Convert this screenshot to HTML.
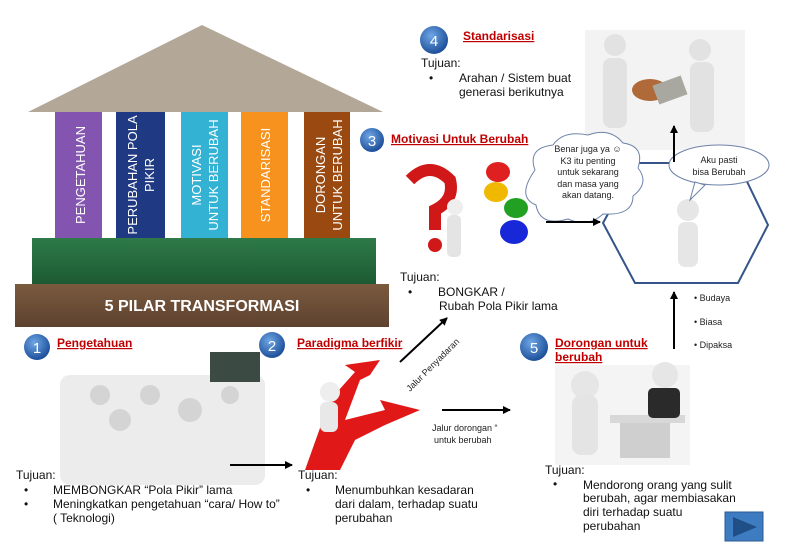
<!DOCTYPE html>
<html><head><meta charset="utf-8"><style>
html,body{margin:0;padding:0;background:#fff;}
svg{display:block;font-family:"Liberation Sans",Arial,sans-serif;}
.t{font-size:12px;fill:#111;}
.h{font-size:12px;font-weight:bold;fill:#c00000;text-decoration:underline;}
.s{font-size:9px;fill:#222;}
.p{font-size:13px;fill:#fff;}
</style></head><body>
<svg width="785" height="550" viewBox="0 0 785 550" xmlns="http://www.w3.org/2000/svg">
<defs>
<radialGradient id="bc" cx="40%" cy="35%" r="65%"><stop offset="0" stop-color="#6fa7e6"/><stop offset="1" stop-color="#1d4f9a"/></radialGradient>
<linearGradient id="gr" x1="0" y1="0" x2="0" y2="1"><stop offset="0" stop-color="#2e7a48"/><stop offset="1" stop-color="#1d5a33"/></linearGradient>
<linearGradient id="br" x1="0" y1="0" x2="0" y2="1"><stop offset="0" stop-color="#7a5a3e"/><stop offset="1" stop-color="#5e4230"/></linearGradient>
<marker id="ar" markerWidth="8" markerHeight="8" refX="7" refY="4" orient="auto" markerUnits="userSpaceOnUse"><path d="M0,0 L8,4 L0,8 z" fill="#000"/></marker>
</defs>

<!-- temple -->
<polygon points="202,25 383,112 28,112" fill="#b3a898"/>
<rect x="55" y="112" width="47" height="126" fill="#8355b0"/>
<rect x="116" y="112" width="49" height="126" fill="#1f3a82"/>
<rect x="181" y="112" width="47" height="126" fill="#33b2d4"/>
<rect x="241" y="112" width="47" height="126" fill="#f7921e"/>
<rect x="304" y="112" width="46" height="126" fill="#9a4a10"/>
<g class="p">
<text transform="translate(85,175) rotate(-90)" text-anchor="middle">PENGETAHUAN</text>
<text transform="translate(137,175) rotate(-90)" text-anchor="middle">PERUBAHAN POLA</text>
<text transform="translate(154,175) rotate(-90)" text-anchor="middle">PIKIR</text>
<text transform="translate(201,175) rotate(-90)" text-anchor="middle">MOTIVASI</text>
<text transform="translate(218,175) rotate(-90)" text-anchor="middle">UNTUK BERUBAH</text>
<text transform="translate(270,175) rotate(-90)" text-anchor="middle">STANDARISASI</text>
<text transform="translate(325,175) rotate(-90)" text-anchor="middle">DORONGAN</text>
<text transform="translate(342,175) rotate(-90)" text-anchor="middle">UNTUK BERUBAH</text>
</g>
<rect x="32" y="238" width="344" height="46" fill="url(#gr)"/>
<rect x="15" y="284" width="374" height="43" fill="url(#br)"/>
<text x="202" y="311" text-anchor="middle" style="font-size:16px;font-weight:bold;fill:#fff">5 PILAR TRANSFORMASI</text>

<!-- numbered circles -->
<g style="font-size:15px;fill:#fff" text-anchor="middle">
<circle cx="37" cy="347" r="13" fill="url(#bc)"/><text x="37" y="353">1</text>
<circle cx="272" cy="345" r="13" fill="url(#bc)"/><text x="272" y="351">2</text>
<circle cx="372" cy="140" r="12" fill="url(#bc)"/><text x="372" y="146">3</text>
<circle cx="434" cy="40" r="14" fill="url(#bc)"/><text x="434" y="46">4</text>
<circle cx="534" cy="347" r="14" fill="url(#bc)"/><text x="534" y="353">5</text>
</g>
<text x="57" y="347" class="h">Pengetahuan</text>
<text x="297" y="347" class="h">Paradigma berfikir</text>
<text x="391" y="143" class="h">Motivasi Untuk Berubah</text>
<text x="463" y="40" class="h">Standarisasi</text>
<text x="555" y="347" class="h">Dorongan untuk</text>
<text x="555" y="361" class="h">berubah</text>

<!-- pictures (approximate) -->
<g fill="#e4e4e4">
<rect x="60" y="375" width="205" height="110" rx="10" fill="#ececec"/>
<rect x="210" y="352" width="50" height="30" fill="#3c4a44"/>
<circle cx="100" cy="395" r="10" fill="#d4d4d4"/><circle cx="150" cy="395" r="10" fill="#d4d4d4"/><circle cx="190" cy="410" r="12" fill="#d4d4d4"/><circle cx="120" cy="420" r="11" fill="#d4d4d4"/><circle cx="230" cy="395" r="9" fill="#d4d4d4"/>
</g>
<polygon points="305,470 330,400 355,372 345,365 380,360 370,375 360,380 345,420 385,410 380,400 420,410 385,425 355,440 340,470" fill="#e01818"/>
<circle cx="330" cy="392" r="10" fill="#eee"/><rect x="320" y="402" width="18" height="30" rx="6" fill="#e8e8e8"/>
<path d="M410,180 q20,-20 40,0 q5,20 -15,30 v20" stroke="#d01818" stroke-width="12" fill="none"/>
<circle cx="435" cy="245" r="7" fill="#d01818"/>
<circle cx="455" cy="207" r="8" fill="#eee"/><rect x="447" y="215" width="14" height="42" rx="5" fill="#e4e4e4"/>
<ellipse cx="498" cy="172" rx="12" ry="10" fill="#e02020"/>
<ellipse cx="496" cy="192" rx="12" ry="10" fill="#f0b800"/>
<ellipse cx="516" cy="208" rx="12" ry="10" fill="#22a022"/>
<ellipse cx="514" cy="232" rx="14" ry="12" fill="#1828d8"/>
<rect x="585" y="30" width="160" height="120" fill="#f3f3f3"/>
<circle cx="615" cy="45" r="11" fill="#e2e2e2"/><rect x="603" y="58" width="24" height="70" rx="8" fill="#e2e2e2"/>
<circle cx="700" cy="50" r="11" fill="#e2e2e2"/><rect x="690" y="62" width="24" height="70" rx="8" fill="#e2e2e2"/>
<ellipse cx="650" cy="90" rx="18" ry="11" fill="#b06a3a"/><rect x="655" y="80" width="30" height="20" fill="#a8a8a0" transform="rotate(-20 670 90)"/>
<circle cx="688" cy="210" r="11" fill="#e6e6e6"/><rect x="678" y="222" width="20" height="45" rx="7" fill="#e6e6e6"/>
<rect x="555" y="365" width="135" height="100" fill="#f4f4f4"/>
<rect x="610" y="415" width="75" height="8" fill="#d8d8d8"/><rect x="620" y="423" width="50" height="35" fill="#cfcfcf"/>
<circle cx="585" cy="385" r="14" fill="#e6e6e6"/><rect x="572" y="395" width="26" height="60" rx="9" fill="#e4e4e4"/>
<circle cx="665" cy="375" r="13" fill="#e6e6e6"/><rect x="648" y="388" width="32" height="30" rx="5" fill="#2a2a2a"/>

<!-- hexagon -->
<polygon points="603,223 636,163 738,163 768,225 738,283 635,283" fill="none" stroke="#34548a" stroke-width="2"/>

<!-- bubbles -->
<path d="M535,170 q-8,-22 18,-25 q10,-15 35,-10 q22,-8 35,8 q22,3 15,25 q12,15 -5,28 q0,20 -30,18 q-15,14 -35,5 q-28,8 -32,-14 q-20,-8 -1,-35z" fill="#fff" stroke="#6d82a8" stroke-width="1"/>
<ellipse cx="719" cy="165" rx="50" ry="20" fill="#fff" stroke="#6d82a8"/>
<path d="M695,182 l-5,18 l15,-15z" fill="#fff" stroke="#6d82a8"/>
<g class="s" text-anchor="middle">
<text x="588" y="152">Benar juga ya ☺</text>
<text x="588" y="164">K3 itu penting</text>
<text x="588" y="175">untuk sekarang</text>
<text x="588" y="187">dan masa yang</text>
<text x="588" y="198">akan datang.</text>
<text x="719" y="163">Aku pasti</text>
<text x="719" y="175">bisa Berubah</text>
</g>
<g class="s"><text x="694" y="301">• Budaya</text><text x="694" y="325">• Biasa</text><text x="694" y="348">• Dipaksa</text></g>

<!-- arrows -->
<g stroke="#000" stroke-width="2" fill="none" marker-end="url(#ar)">
<line x1="674" y1="162" x2="674" y2="126"/>
<line x1="674" y1="349" x2="674" y2="292"/>
<line x1="546" y1="222" x2="600" y2="222"/>
<line x1="230" y1="465" x2="292" y2="465"/>
<line x1="442" y1="410" x2="510" y2="410"/>
<line x1="400" y1="362" x2="447" y2="318"/>
</g>
<text transform="translate(410,392) rotate(-45)" class="s">Jalur Penyadaran</text>
<text x="432" y="431" class="s">Jalur dorongan “</text>
<text x="434" y="443" class="s">untuk berubah</text>

<!-- text blocks -->
<g class="t">
<text x="16" y="479">Tujuan:</text>
<text x="24" y="494">•</text><text x="53" y="494">MEMBONGKAR “Pola Pikir” lama</text>
<text x="24" y="508">•</text><text x="53" y="508">Meningkatkan pengetahuan “cara/ How to”</text>
<text x="53" y="522">( Teknologi)</text>
<text x="298" y="479">Tujuan:</text>
<text x="306" y="494">•</text><text x="335" y="494">Menumbuhkan kesadaran</text>
<text x="335" y="508">dari dalam, terhadap suatu</text>
<text x="335" y="522">perubahan</text>
<text x="421" y="67">Tujuan:</text>
<text x="429" y="82">•</text><text x="459" y="82">Arahan / Sistem buat</text>
<text x="459" y="96">generasi berikutnya</text>
<text x="400" y="281">Tujuan:</text>
<text x="408" y="296">•</text><text x="438" y="296">BONGKAR /</text>
<text x="439" y="310">Rubah Pola Pikir lama</text>
<text x="545" y="474">Tujuan:</text>
<text x="553" y="488">•</text><text x="583" y="489">Mendorong orang yang sulit</text>
<text x="583" y="502">berubah, agar membiasakan</text>
<text x="583" y="516">diri terhadap suatu</text>
<text x="583" y="530">perubahan</text>
</g>

<!-- next button -->
<rect x="725" y="512" width="38" height="29" fill="#3d7cc0" stroke="#2a5a90"/>
<polygon points="733,517 757,527 733,537" fill="#1f4f86"/>
</svg>
</body></html>
